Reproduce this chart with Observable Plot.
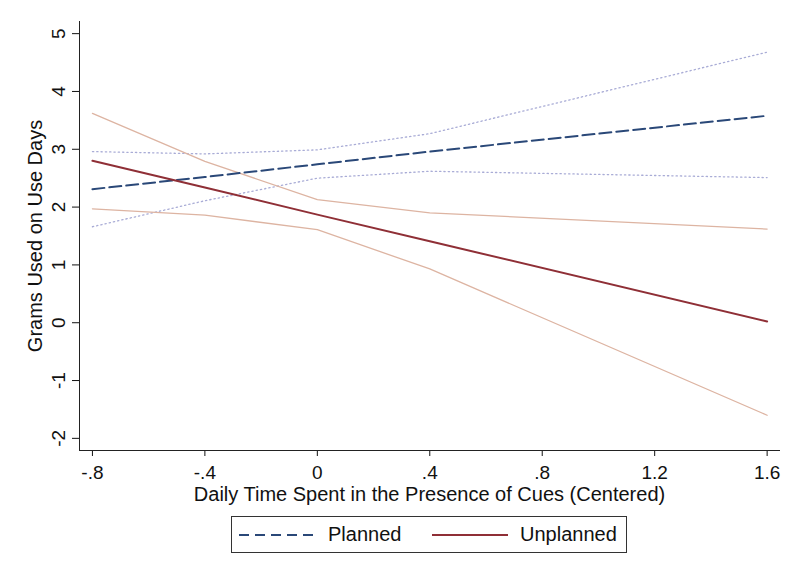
<!DOCTYPE html>
<html>
<head>
<meta charset="utf-8">
<script src="https://cdn.jsdelivr.net/npm/d3@7"></script>
<script src="https://cdn.jsdelivr.net/npm/@observablehq/plot@0.6"></script>
<style>
  html, body { margin: 0; padding: 0; background: #fff; }
  #wrap { position: relative; width: 800px; height: 571px; font-family: "Liberation Sans", Arial, sans-serif; }
  #legend { position: absolute; left: 231px; top: 516px; width: 394px; height: 35px; border: 1px solid #333; box-sizing: content-box; }
  #legend .item { position: absolute; top: 0; height: 35px; display: flex; align-items: center; font-size: 20px; color: #111; }
</style>
</head>
<body>
<div id="wrap">
  <div id="chart"></div>
  <div id="legend"></div>
</div>
<script>
// Data
const xs = [-0.8, -0.4, 0, 0.4, 1.6];
const plannedFit = [2.31, 2.52, 2.74, 2.96, 3.58];
const plannedUpper = [2.96, 2.92, 2.99, 3.27, 4.68];
const plannedLower = [1.66, 2.11, 2.50, 2.62, 2.51];
const unplannedFit = [2.80, 2.34, 1.87, 1.41, 0.02];
const unplannedUpper = [3.62, 2.79, 2.13, 1.90, 1.62];
const unplannedLower = [1.97, 1.86, 1.61, 0.93, -1.60];
const xTicks = [-0.8, -0.4, 0, 0.4, 0.8, 1.2, 1.6];
const yTicks = [-2, -1, 0, 1, 2, 3, 4, 5];
const seriesNames = ["Planned", "Unplanned"];
const xTitle = "Daily Time Spent in the Presence of Cues (Centered)";
const yTitle = "Grams Used on Use Days";

const colPlanned = "#2a4878";
const colPlannedCI = "#a9acd6";
const colUnplanned = "#8f2f36";
const colUnplannedCI = "#ddb4a2";

const toRows = (ys) => xs.map((x, i) => ({x, y: ys[i]}));
const fmtX = (d) => d === 0 ? "0" : String(d).replace("0.", ".");
const fmtY = (d) => String(d);

const chart = Plot.plot({
  width: 800,
  height: 508,
  marginTop: 21,
  marginBottom: 58,
  marginLeft: 79,
  marginRight: 21,
  style: {fontFamily: "Liberation Sans, Arial, sans-serif", fontSize: "19px", color: "#111", background: "#fff"},
  x: {domain: [-0.846, 1.644]},
  y: {domain: [-2.21, 5.21]},
  marks: [
    Plot.axisX({ticks: xTicks, tickFormat: fmtX, tickSize: 6, tickPadding: 9, label: null, fontSize: 19}),
    Plot.axisY({ticks: yTicks, tickFormat: fmtY, tickSize: 7, tickPadding: 8, tickRotate: -90, label: null, fontSize: 19}),
    Plot.frame({anchor: "bottom", stroke: "#222"}),
    Plot.frame({anchor: "left", stroke: "#222"}),
    Plot.text([xTitle], {frameAnchor: "bottom", dy: 50, fontSize: 20}),
    Plot.text([yTitle], {frameAnchor: "left", dx: -44, rotate: -90, textAnchor: "middle", fontSize: 20}),
    Plot.line(toRows(plannedUpper), {x: "x", y: "y", stroke: colPlannedCI, strokeWidth: 1.3, strokeDasharray: "1.3,3"}),
    Plot.line(toRows(plannedLower), {x: "x", y: "y", stroke: colPlannedCI, strokeWidth: 1.3, strokeDasharray: "1.3,3"}),
    Plot.line(toRows(unplannedUpper), {x: "x", y: "y", stroke: colUnplannedCI, strokeWidth: 1.3}),
    Plot.line(toRows(unplannedLower), {x: "x", y: "y", stroke: colUnplannedCI, strokeWidth: 1.3}),
    Plot.line(toRows(plannedFit), {x: "x", y: "y", stroke: colPlanned, strokeWidth: 2, strokeDasharray: "12,5"}),
    Plot.line(toRows(unplannedFit), {x: "x", y: "y", stroke: colUnplanned, strokeWidth: 2})
  ]
});
document.getElementById("chart").appendChild(chart);

const legend = document.getElementById("legend");
legend.innerHTML = `
  <div class="item" style="left:7px"><svg width="77" height="4"><line x1="0" y1="2" x2="77" y2="2" stroke="${colPlanned}" stroke-width="2" stroke-dasharray="10,6"/></svg></div>
  <div class="item" style="left:96px">${seriesNames[0]}</div>
  <div class="item" style="left:200px"><svg width="76" height="4"><line x1="0" y1="2" x2="76" y2="2" stroke="${colUnplanned}" stroke-width="2"/></svg></div>
  <div class="item" style="left:288px">${seriesNames[1]}</div>`;
</script>
</body>
</html>
